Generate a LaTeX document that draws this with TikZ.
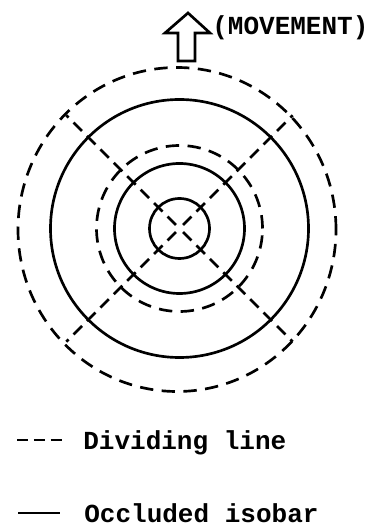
\documentclass[tikz,border=0pt]{standalone}
\usepackage{fontspec}
\setmonofont{Liberation Mono}
\usepackage{tikz}
\usetikzlibrary{calc}

\begin{document}
\begin{tikzpicture}[x=0.025cm, y=0.025cm, line width=1.9pt,
    isobar/.style={black},
    divider/.style={black, dash pattern=on 9.5pt off 6pt},
    legtext/.style={font=\ttfamily\bfseries\fontsize{18.5}{20}\selectfont, inner sep=0pt, anchor=base west}]
    % --- 1. 畫布範圍與圓心 O ---
    \useasboundingbox (0,0) rectangle (373,531);
    \coordinate (O) at (179.5,302.5);
    \coordinate (Q) at (177,301.5);
    \def\rA{30}
    \def\rB{65}
    \def\rC{83}
    \def\rD{129}

    % --- 2. 實線等壓線 (occluded isobar) ---
    \draw[isobar] (O) circle (\rA);
    \draw[isobar] (O) circle (\rB);
    \draw[isobar] (O) circle (\rD);

    % --- 3. 虛線分界線 (dividing line) ---
    \draw[divider] (O) circle (\rC);
    \draw[divider] (Q) circle [x radius=159, y radius=162];
    \foreach \a in {45,135,225,315}
        \draw[divider, dash pattern=on 8.5pt off 5pt] ([shift={(\a:5)}]O) -- ([shift={(\a:160)}]O);

    % --- 4. 移動方向箭頭 ---
    \coordinate (T) at (188,518);
    \draw[line join=miter] (178,470) -- (178,498) -- (165,498) -- (T)
        -- (210,498) -- (195,498) -- (195,470) -- cycle;
    \node[legtext] (move) at (211,496) {(MOVEMENT)};

    % --- 5. 圖例 ---
    \coordinate (d1) at (17,91);
    \coordinate (d2) at (62,91);
    \coordinate (s1) at (18,18);
    \coordinate (s2) at (60,18);
    \draw[dash pattern=on 7.8pt off 4.2pt] (d1) -- (d2);
    \draw (s1) -- (s2);
    \node[legtext] (divtxt) at (82,81) {Dividing line};
    \node[legtext] (occtxt) at (83,9) {Occluded isobar};
\end{tikzpicture}
\end{document}
